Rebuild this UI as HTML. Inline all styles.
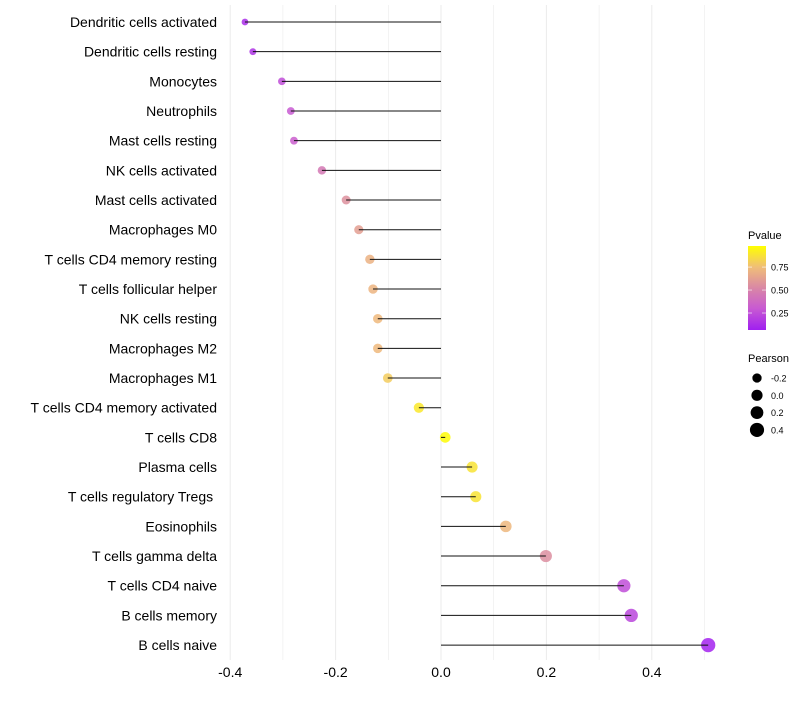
<!DOCTYPE html>
<html><head><meta charset="utf-8"><style>
body{margin:0;background:#fff;font-family:"Liberation Sans",sans-serif}
</style></head><body>
<svg id="c" width="800" height="700" xmlns="http://www.w3.org/2000/svg"></svg>
<script>
const categories=["Dendritic cells activated","Dendritic cells resting","Monocytes","Neutrophils","Mast cells resting","NK cells activated","Mast cells activated","Macrophages M0","T cells CD4 memory resting","T cells follicular helper","NK cells resting","Macrophages M2","Macrophages M1","T cells CD4 memory activated","T cells CD8","Plasma cells","T cells regulatory  Tregs ","Eosinophils","T cells gamma delta","T cells CD4 naive","B cells memory","B cells naive"];
const pearson=[-0.372,-0.357,-0.302,-0.285,-0.279,-0.226,-0.180,-0.156,-0.135,-0.129,-0.120,-0.120,-0.101,-0.042,0.008,0.059,0.066,0.123,0.199,0.347,0.361,0.507];
const pvalues=[0.12,0.15,0.25,0.3,0.32,0.45,0.56,0.62,0.7,0.71,0.73,0.73,0.8,0.9,0.97,0.88,0.88,0.72,0.55,0.25,0.22,0.08];
const xTicks=[-0.4,-0.2,0.0,0.2,0.4];
const xTickLabels=["-0.4","-0.2","0.0","0.2","0.4"];
const pTicks=[0.25,0.5,0.75];
const sizeLegend=[-0.2,0.0,0.2,0.4];
const NS="http://www.w3.org/2000/svg";
const svg=document.getElementById('c');
function el(t,a,p){const e=document.createElementNS(NS,t);for(const k in a)e.setAttribute(k,a[k]);(p||svg).appendChild(e);return e;}
const x=v=>441+(v)*527;
const y=i=>22+i*29.67;
const r=v=>Math.sqrt(Math.max(2,28+45*v));
const stops=[[0.065,[160,31,240]],[0.3,[200,90,210]],[0.5,[215,130,170]],[0.75,[240,190,120]],[0.98,[255,255,0]]];
function col(p){p=Math.max(stops[0][0],Math.min(stops[4][0],p));for(let i=0;i<4;i++){const[a,ca]=stops[i],[b,cb]=stops[i+1];if(p<=b){const t=(p-a)/(b-a);return `rgb(${ca.map((c,j)=>Math.round(c+(cb[j]-c)*t)).join(',')})`;}}}
for(let v=-0.4;v<=0.51;v+=0.1){const g=el('line',{x1:x(v),x2:x(v),y1:5,y2:660,stroke:'#ebebeb','stroke-width':Math.abs(Math.round(v*10))%2===0?1:0.6});
}
xTicks.forEach((v,i)=>{const t=el('text',{x:x(v),y:677,'text-anchor':'middle','font-size':14,fill:'#000'});t.textContent=xTickLabels[i];
});
categories.forEach((c,i)=>{
const t=el('text',{x:217,y:y(i)+5,'text-anchor':'end','font-size':14,fill:'#000'});t.setAttribute('xml:space','preserve');t.textContent=c.replace(/ $/,'\u00a0');

const d=el('circle',{cx:x(pearson[i]),cy:y(i),r:r(pearson[i]),fill:col(pvalues[i]),'fill-opacity':0.85});

const l=el('line',{x1:x(0),x2:x(pearson[i]),y1:y(i),y2:y(i),stroke:'#111','stroke-width':1});

});
const lt=el('text',{x:748,y:239,'font-size':11,fill:'#000'});lt.textContent='Pvalue';

const defs=el('defs',{});const gr=el('linearGradient',{id:'g',x1:0,y1:1,x2:0,y2:0},defs);
stops.forEach(s=>el('stop',{offset:(s[0]-0.065)/(0.98-0.065),'stop-color':`rgb(${s[1].join(',')})`},gr));
const bar=el('rect',{x:748,y:246,width:18,height:84,fill:'url(#g)'});

pTicks.forEach(p=>{const yy=330-(p-0.065)/(0.98-0.065)*84;
el('line',{x1:748,x2:752,y1:yy,y2:yy,stroke:'#fff','stroke-opacity':0.6});el('line',{x1:762,x2:766,y1:yy,y2:yy,stroke:'#fff','stroke-opacity':0.6});
const t=el('text',{x:771,y:yy+3.5,'font-size':9,fill:'#000'});t.textContent=p.toFixed(2);
});
const st=el('text',{x:748,y:362,'font-size':11,fill:'#000'});st.textContent='Pearson';

sizeLegend.forEach((v,i)=>{const yy=378+i*17.3;
const c=el('circle',{cx:757,cy:yy,r:r(v)+0.3,fill:'#000'});

const t=el('text',{x:771,y:yy+3.5,'font-size':9,fill:'#000'});t.textContent=v.toFixed(1);
});
</script>
</body></html>
